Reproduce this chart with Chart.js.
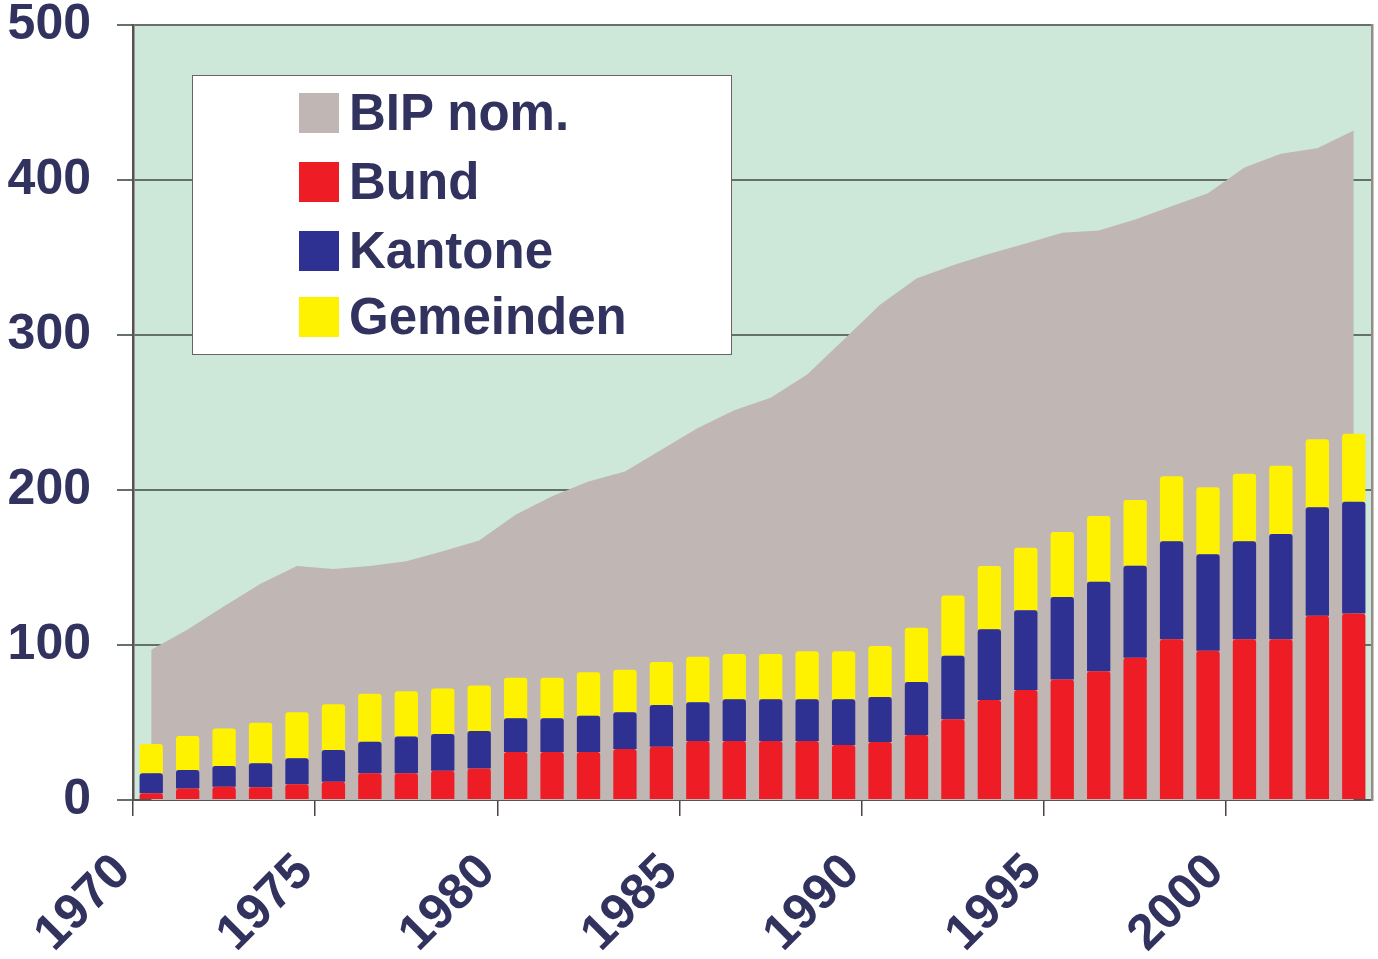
<!DOCTYPE html>
<html>
<head>
<meta charset="utf-8">
<script src="https://cdn.jsdelivr.net/npm/chart.js@4.4.1/dist/chart.umd.min.js"></script>
<style>
  html, body { margin: 0; padding: 0; background: #ffffff; }
  #wrap { position: relative; width: 1378px; height: 959px; }
  #legend {
    position: absolute; left: 192px; top: 75px; width: 538px; height: 278px;
    background: #ffffff; border: 1.5px solid #6a6464;
    font-family: "Liberation Sans", Arial, Helvetica, sans-serif; font-weight: bold;
    font-size: 51px; color: #32325f;
  }
  #legend .row { position: absolute; left: 106px; height: 40px; line-height: 40px; white-space: nowrap; }
  #legend .sw { display: inline-block; width: 40px; height: 40px; vertical-align: top; margin-right: 10px; }
</style>
</head>
<body>
<div id="wrap">
  <canvas id="chart"></canvas>
  <div id="legend"></div>
</div>
<script>
// years (one category per bar)
const years = [1970, 1971, 1972, 1973, 1974, 1975, 1976, 1977, 1978, 1979,
               1980, 1981, 1982, 1983, 1984, 1985, 1986, 1987, 1988, 1989,
               1990, 1991, 1992, 1993, 1994, 1995, 1996, 1997, 1998, 1999,
               2000, 2001, 2002, 2003];

// BIP nominal (area)
const bip = [97, 110, 125, 139.5, 151, 149, 151, 154, 160.5, 167.5,
             184, 196, 205.5, 212, 226, 240, 251.5, 259.5, 274.5, 297,
             319.5, 336.5, 345, 352.5, 359, 366, 367.5, 374.5, 383, 391.5,
             408, 417, 420.5, 432];

// stacked bars
const bund = [4.3, 7.5, 8.6, 8.2, 10.1, 11.8, 17.2, 17.2, 18.9, 20.4,
              31, 31, 31, 32.9, 34.4, 38.1, 38.1, 38.1, 38.1, 35.5,
              37.5, 41.9, 52.1, 64.5, 71, 77.8, 83, 91.8, 103.7, 96.3,
              103.7, 103.7, 118.9, 120.4];
const kantone = [12.9, 11.9, 13.3, 15.5, 16.8, 20.5, 20.4, 23.7, 23.7, 24.1,
                 21.7, 21.7, 23.4, 23.7, 26.9, 24.9, 26.9, 26.9, 26.9, 29.5,
                 29, 34.2, 41, 45.6, 51.4, 53.2, 57.8, 59.4, 63.2, 62.2,
                 63.2, 67.9, 69.9, 72.1];
const gemeinden = [18.9, 21.9, 24.3, 26.2, 29.7, 29.4, 31, 29.2, 29.4, 29.3,
                   26.2, 26.2, 28, 27.5, 27.7, 29.5, 29.2, 29.2, 30.9, 30.9,
                   32.9, 35.1, 38.9, 40.9, 40.4, 41.9, 42.4, 42.3, 41.9, 43.2,
                   43.6, 44.1, 43.9, 43.8];

const seriesNames = ["BIP nom.", "Bund", "Kantone", "Gemeinden"];
const seriesColors = ["#c0b6b3", "#ee1c25", "#2e3192", "#fff200"];

const yTicks = [0, 100, 200, 300, 400, 500];
const xTickYears = [1970, 1975, 1980, 1985, 1990, 1995, 2000];

const textColor = "#32325f";
const fontFamily = '"Liberation Sans", Arial, Helvetica, sans-serif';

// bars sit in the middle of their year slot
function pts(values) {
    return values.map((v, i) => ({ x: years[i] + 0.5, y: v }));
}

const plotBg = {
    id: "plotBg",
    beforeDraw(chart) {
        const a = chart.chartArea;
        const ctx = chart.ctx;
        ctx.save();
        ctx.fillStyle = "#cde7d8";
        ctx.fillRect(a.left, a.top, a.right - a.left, a.bottom - a.top);
        ctx.restore();
    }
};

const barRadius = { topLeft: 3, topRight: 3, bottomLeft: 0, bottomRight: 0 };

function barSet(i, values) {
    return {
        type: "bar",
        label: seriesNames[i],
        data: pts(values),
        backgroundColor: seriesColors[i],
        borderWidth: 0,
        borderRadius: barRadius,
        borderSkipped: false,
        stack: "bars",
        order: 1,
        barPercentage: 0.64,
        categoryPercentage: 1.0,
    };
}

new Chart(document.getElementById("chart"), {
    data: {
        datasets: [
            {
                type: "line",
                label: seriesNames[0],
                data: pts(bip),
                backgroundColor: seriesColors[0],
                borderWidth: 0,
                pointRadius: 0,
                tension: 0,
                fill: "origin",
                stack: "bip",
                order: 5,
            },
            barSet(1, bund),
            barSet(2, kantone),
            barSet(3, gemeinden),
        ],
    },
    options: {
        responsive: true,
        maintainAspectRatio: false,
        animation: false,
        layout: { padding: { top: 0, right: 6, left: 0, bottom: 0 } },
        plugins: {
            legend: { display: false },
            tooltip: { enabled: false },
        },
        scales: {
            x: {
                type: "linear",
                min: 1970,
                max: 2004,
                offset: false,
                stacked: true,
                afterBuildTicks: (s) => { s.ticks = xTickYears.map(v => ({ value: v })); },
                afterFit: (s) => { s.height = 159; },
                ticks: {
                    autoSkip: false,
                    minRotation: 45,
                    maxRotation: 45,
                    padding: 27,
                    labelOffset: -10,
                    color: textColor,
                    font: { family: fontFamily, size: 50, weight: "bold" },
                    callback: (v) => String(v),
                },
                grid: {
                    drawOnChartArea: false,
                    drawTicks: true,
                    tickLength: 16,
                    color: "#4a4444",
                    lineWidth: 1.5,
                    offset: false,
                },
                border: { display: true, color: "#5a5050", width: 2 },
            },
            y: {
                min: 0,
                max: 500,
                stacked: true,
                afterBuildTicks: (s) => { s.ticks = yTicks.map(v => ({ value: v })); },
                afterFit: (s) => { s.width = 133; s.paddingTop = 25; s.paddingBottom = 25; },
                ticks: {
                    padding: 26,
                    color: textColor,
                    font: { family: fontFamily, size: 50, weight: "bold", lineHeight: 1 },
                },
                grid: {
                    color: "#66706b",
                    lineWidth: 2,
                    tickLength: 16,
                },
                border: { display: true, color: "#5a5050", width: 2.5 },
            },
            yRight: {
                position: "right",
                min: 0,
                max: 500,
                afterFit: (s) => { s.width = 0; s.paddingTop = 0; s.paddingBottom = 0; },
                ticks: { display: false },
                grid: { drawOnChartArea: false, drawTicks: false },
                border: { display: true, color: "#958b88", width: 2.5 },
            },
        },
    },
    plugins: [plotBg],
});

// legend box built from the same series names / colours
const legendEl = document.getElementById("legend");
const rowTops = [17, 86, 155, 221];
seriesNames.forEach((name, i) => {
    const row = document.createElement("div");
    row.className = "row";
    row.style.top = rowTops[i] + "px";
    const sw = document.createElement("span");
    sw.className = "sw";
    sw.style.background = seriesColors[i];
    row.appendChild(sw);
    row.appendChild(document.createTextNode(name));
    legendEl.appendChild(row);
});
</script>
</body>
</html>
